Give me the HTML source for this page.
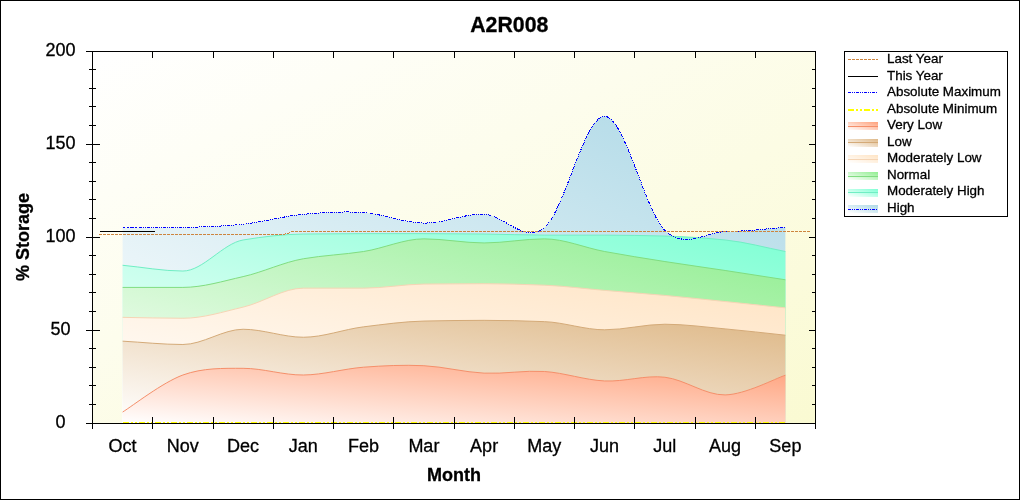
<!DOCTYPE html><html><head><meta charset="utf-8"><style>html,body{margin:0;padding:0;background:#fff;}svg{display:block;}text{font-family:"Liberation Sans",Arial,sans-serif;stroke:#000;stroke-width:0.3px;}</style></head><body>
<svg width="1020" height="500" viewBox="0 0 1020 500">
<defs>
<linearGradient id="bg" x1="0" y1="0" x2="1" y2="1"><stop offset="0" stop-color="#FFFFFF"/><stop offset="1" stop-color="#FAFAD2"/></linearGradient>
<linearGradient id="g_amax" x1="0" y1="1" x2="1" y2="0"><stop offset="0" stop-color="#FFFFFF"/><stop offset="1" stop-color="#ADD8E6"/></linearGradient>
<linearGradient id="l_amax" x1="0" y1="1" x2="1" y2="0"><stop offset="0" stop-color="#FFFFFF"/><stop offset="1" stop-color="#ADD8E6"/></linearGradient>
<linearGradient id="g_mhigh" x1="0" y1="1" x2="1" y2="0"><stop offset="0" stop-color="#FFFFFF"/><stop offset="1" stop-color="#7FFFD4"/></linearGradient>
<linearGradient id="l_mhigh" x1="0" y1="1" x2="1" y2="0"><stop offset="0" stop-color="#FFFFFF"/><stop offset="1" stop-color="#7FFFD4"/></linearGradient>
<linearGradient id="g_norm" x1="0" y1="1" x2="1" y2="0"><stop offset="0" stop-color="#FFFFFF"/><stop offset="1" stop-color="#90EE90"/></linearGradient>
<linearGradient id="l_norm" x1="0" y1="1" x2="1" y2="0"><stop offset="0" stop-color="#FFFFFF"/><stop offset="1" stop-color="#90EE90"/></linearGradient>
<linearGradient id="g_mlow" x1="0" y1="1" x2="1" y2="0"><stop offset="0" stop-color="#FFFFFF"/><stop offset="1" stop-color="#FFE4C4"/></linearGradient>
<linearGradient id="l_mlow" x1="0" y1="1" x2="1" y2="0"><stop offset="0" stop-color="#FFFFFF"/><stop offset="1" stop-color="#FFE4C4"/></linearGradient>
<linearGradient id="g_low" x1="0" y1="1" x2="1" y2="0"><stop offset="0" stop-color="#FFFFFF"/><stop offset="1" stop-color="#DEB887"/></linearGradient>
<linearGradient id="l_low" x1="0" y1="1" x2="1" y2="0"><stop offset="0" stop-color="#FFFFFF"/><stop offset="1" stop-color="#DEB887"/></linearGradient>
<linearGradient id="g_vlow" x1="0" y1="1" x2="1" y2="0"><stop offset="0" stop-color="#FFFFFF"/><stop offset="1" stop-color="#FFA07A"/></linearGradient>
<linearGradient id="l_vlow" x1="0" y1="1" x2="1" y2="0"><stop offset="0" stop-color="#FFFFFF"/><stop offset="1" stop-color="#FFA07A"/></linearGradient>
</defs>
<rect x="0" y="0" width="1020" height="500" fill="#fff"/>
<rect x="0.5" y="0.5" width="1019" height="499" fill="none" stroke="#000"/>
<text x="509.3" y="32.1" font-size="21.3" font-weight="bold" text-anchor="middle">A2R008</text>
<rect x="93" y="52" width="722" height="371" fill="url(#bg)"/>
<path d="M122.62 423 L122.62 227.7 C132.67 227.67 162.79 228.1 182.88 227.51 C202.96 226.93 223.04 226.37 243.12 224.17 C263.21 221.96 283.29 216.23 303.38 214.31 C323.46 212.39 343.54 211.18 363.62 212.63 C383.71 214.09 403.79 222.77 423.88 223.05 C443.96 223.33 464.04 213.53 484.12 214.31 C504.21 215.08 524.29 244.04 544.38 227.7 C564.46 211.36 584.54 115.85 604.62 116.29 C624.71 116.72 644.79 211.05 664.88 230.3 C684.96 249.56 705.04 232.29 725.12 231.79 C745.21 231.3 775.33 228.07 785.38 227.33 L785.38 423 Z" fill="url(#g_amax)"/>
<path d="M122.62 423 L122.62 265.27 C142.71 267.19 162.79 271.04 182.88 271.04 C202.96 271.04 223.04 243.31 243.12 239.98 C263.21 236.65 283.29 234.26 303.38 234.02 C323.46 233.79 343.54 233.65 363.62 233.65 C383.71 233.65 403.79 233.65 423.88 233.65 C443.96 233.65 464.04 233.84 484.12 234.02 C504.21 234.21 524.29 235.14 544.38 235.14 C564.46 235.14 584.54 235.14 604.62 235.14 C624.71 235.14 644.79 235.57 664.88 236.07 C684.96 236.57 705.04 238.03 725.12 239.98 C745.21 241.92 765.29 247.66 785.38 251.51 L785.38 423 Z" fill="url(#g_mhigh)"/>
<path d="M122.62 265.27 C142.71 267.19 162.79 271.04 182.88 271.04 C202.96 271.04 223.04 243.31 243.12 239.98 C263.21 236.65 283.29 234.26 303.38 234.02 C323.46 233.79 343.54 233.65 363.62 233.65 C383.71 233.65 403.79 233.65 423.88 233.65 C443.96 233.65 464.04 233.84 484.12 234.02 C504.21 234.21 524.29 235.14 544.38 235.14 C564.46 235.14 584.54 235.14 604.62 235.14 C624.71 235.14 644.79 235.57 664.88 236.07 C684.96 236.57 705.04 238.03 725.12 239.98 C745.21 241.92 765.29 247.66 785.38 251.51" fill="none" stroke="#70EEC4" stroke-width="1"/>
<path d="M122.62 423 L122.62 287.41 C142.71 287.41 162.79 287.41 182.88 287.41 C202.96 287.41 223.04 281.1 243.12 276.62 C263.21 272.13 283.29 262.2 303.38 258.76 C323.46 255.32 343.54 254.58 363.62 251.51 C383.71 248.43 403.79 238.86 423.88 238.86 C443.96 238.86 464.04 242.95 484.12 242.95 C504.21 242.95 524.29 238.86 544.38 238.86 C564.46 238.86 584.54 247.78 604.62 251.51 C624.71 255.24 644.79 258.4 664.88 261.55 C684.96 264.7 705.04 267.44 725.12 270.48 C745.21 273.52 765.29 276.68 785.38 279.78 L785.38 423 Z" fill="url(#g_norm)"/>
<path d="M122.62 287.41 C142.71 287.41 162.79 287.41 182.88 287.41 C202.96 287.41 223.04 281.1 243.12 276.62 C263.21 272.13 283.29 262.2 303.38 258.76 C323.46 255.32 343.54 254.58 363.62 251.51 C383.71 248.43 403.79 238.86 423.88 238.86 C443.96 238.86 464.04 242.95 484.12 242.95 C504.21 242.95 524.29 238.86 544.38 238.86 C564.46 238.86 584.54 247.78 604.62 251.51 C624.71 255.24 644.79 258.4 664.88 261.55 C684.96 264.7 705.04 267.44 725.12 270.48 C745.21 273.52 765.29 276.68 785.38 279.78" fill="none" stroke="#80DD80" stroke-width="1"/>
<path d="M122.62 423 L122.62 317.35 C142.71 317.66 162.79 318.28 182.88 318.28 C202.96 318.28 223.04 311.81 243.12 307.12 C263.21 302.44 283.29 288.15 303.38 288.15 C323.46 288.15 343.54 288.15 363.62 288.15 C383.71 288.15 403.79 284.29 423.88 284.06 C443.96 283.83 464.04 283.69 484.12 283.69 C504.21 283.69 524.29 284.4 544.38 285.17 C564.46 285.95 584.54 288.68 604.62 290.38 C624.71 292.09 644.79 293.56 664.88 295.4 C684.96 297.25 705.04 299.47 725.12 301.54 C745.21 303.62 765.29 305.76 785.38 307.87 L785.38 423 Z" fill="url(#g_mlow)"/>
<path d="M122.62 317.35 C142.71 317.66 162.79 318.28 182.88 318.28 C202.96 318.28 223.04 311.81 243.12 307.12 C263.21 302.44 283.29 288.15 303.38 288.15 C323.46 288.15 343.54 288.15 363.62 288.15 C383.71 288.15 403.79 284.29 423.88 284.06 C443.96 283.83 464.04 283.69 484.12 283.69 C504.21 283.69 524.29 284.4 544.38 285.17 C564.46 285.95 584.54 288.68 604.62 290.38 C624.71 292.09 644.79 293.56 664.88 295.4 C684.96 297.25 705.04 299.47 725.12 301.54 C745.21 303.62 765.29 305.76 785.38 307.87" fill="none" stroke="#F5D5B5" stroke-width="1"/>
<path d="M122.62 423 L122.62 341.16 C142.71 342.28 162.79 344.51 182.88 344.51 C202.96 344.51 223.04 329.26 243.12 329.26 C263.21 329.26 283.29 337.25 303.38 337.25 C323.46 337.25 343.54 329.31 363.62 326.84 C383.71 324.36 403.79 321.51 423.88 321.07 C443.96 320.63 464.04 320.33 484.12 320.33 C504.21 320.33 524.29 320.88 544.38 321.63 C564.46 322.38 584.54 329.81 604.62 329.81 C624.71 329.81 644.79 324.23 664.88 324.23 C684.96 324.23 705.04 327.1 725.12 328.88 C745.21 330.67 765.29 333.1 785.38 335.21 L785.38 423 Z" fill="url(#g_low)"/>
<path d="M122.62 341.16 C142.71 342.28 162.79 344.51 182.88 344.51 C202.96 344.51 223.04 329.26 243.12 329.26 C263.21 329.26 283.29 337.25 303.38 337.25 C323.46 337.25 343.54 329.31 363.62 326.84 C383.71 324.36 403.79 321.51 423.88 321.07 C443.96 320.63 464.04 320.33 484.12 320.33 C504.21 320.33 524.29 320.88 544.38 321.63 C564.46 322.38 584.54 329.81 604.62 329.81 C624.71 329.81 644.79 324.23 664.88 324.23 C684.96 324.23 705.04 327.1 725.12 328.88 C745.21 330.67 765.29 333.1 785.38 335.21" fill="none" stroke="#D4AA78" stroke-width="1"/>
<path d="M122.62 423 L122.62 412.03 C132.67 405.86 162.79 382.3 182.88 375.01 C202.96 367.73 223.04 368.32 243.12 368.32 C263.21 368.32 283.29 375.2 303.38 375.01 C323.46 374.83 343.54 368.75 363.62 367.2 C383.71 365.65 403.79 364.72 423.88 365.71 C443.96 366.7 464.04 372.19 484.12 373.15 C504.21 374.11 524.29 370.18 544.38 371.48 C564.46 372.78 584.54 380 604.62 380.96 C624.71 381.93 644.79 374.92 664.88 377.24 C684.96 379.57 705.04 395.25 725.12 394.91 C745.21 394.57 775.33 378.48 785.38 375.2 L785.38 423 Z" fill="url(#g_vlow)"/>
<path d="M122.62 412.03 C132.67 405.86 162.79 382.3 182.88 375.01 C202.96 367.73 223.04 368.32 243.12 368.32 C263.21 368.32 283.29 375.2 303.38 375.01 C323.46 374.83 343.54 368.75 363.62 367.2 C383.71 365.65 403.79 364.72 423.88 365.71 C443.96 366.7 464.04 372.19 484.12 373.15 C504.21 374.11 524.29 370.18 544.38 371.48 C564.46 372.78 584.54 380 604.62 380.96 C624.71 381.93 644.79 374.92 664.88 377.24 C684.96 379.57 705.04 395.25 725.12 394.91 C745.21 394.57 775.33 378.48 785.38 375.2" fill="none" stroke="#F58F6A" stroke-width="1"/>
<path d="M123 423 L785.38 423" stroke="#FFFF00" stroke-width="2" stroke-dasharray="6 2 2 2 2 2" fill="none"/>
<path d="M122.62 227.7 C132.67 227.67 162.79 228.1 182.88 227.51 C202.96 226.93 223.04 226.37 243.12 224.17 C263.21 221.96 283.29 216.23 303.38 214.31 C323.46 212.39 343.54 211.18 363.62 212.63 C383.71 214.09 403.79 222.77 423.88 223.05 C443.96 223.33 464.04 213.53 484.12 214.31 C504.21 215.08 524.29 244.04 544.38 227.7 C564.46 211.36 584.54 115.85 604.62 116.29 C624.71 116.72 644.79 211.05 664.88 230.3 C684.96 249.56 705.04 232.29 725.12 231.79 C745.21 231.3 775.33 228.07 785.38 227.33" fill="none" stroke="#0000FF" stroke-width="1" stroke-dasharray="3 1 1 1 1 1" shape-rendering="crispEdges"/>
<path d="M99 234.5 H283 M283 234.5 L287 233.5 L291 232.5 M291 231.5 H810" fill="none" stroke="#CD853F" stroke-width="1" stroke-dasharray="3 1" shape-rendering="crispEdges"/>
<path d="M100 231.5 L155 231.5" stroke="#000" stroke-width="1"/>
<path d="M86 51.5 H815.5 M86 423.5 H815.5 M92.5 51 V429 M815.5 51 V429 M92.5 423 V429 M152.5 417 V429 M152.5 52 V58 M213.5 417 V429 M213.5 52 V58 M273.5 417 V429 M273.5 52 V58 M333.5 417 V429 M333.5 52 V58 M393.5 417 V429 M393.5 52 V58 M454.5 417 V429 M454.5 52 V58 M514.5 417 V429 M514.5 52 V58 M574.5 417 V429 M574.5 52 V58 M634.5 417 V429 M634.5 52 V58 M695.5 417 V429 M695.5 52 V58 M755.5 417 V429 M755.5 52 V58 M815.5 423 V429 M86 423.5 H100 M809 423.5 H815 M89 404.5 H96 M812 404.5 H815 M89 385.5 H96 M812 385.5 H815 M89 367.5 H96 M812 367.5 H815 M89 348.5 H96 M812 348.5 H815 M86 330.5 H100 M809 330.5 H815 M89 311.5 H96 M812 311.5 H815 M89 292.5 H96 M812 292.5 H815 M89 274.5 H96 M812 274.5 H815 M89 255.5 H96 M812 255.5 H815 M86 237.5 H100 M809 237.5 H815 M89 218.5 H96 M812 218.5 H815 M89 199.5 H96 M812 199.5 H815 M89 181.5 H96 M812 181.5 H815 M89 162.5 H96 M812 162.5 H815 M86 144.5 H100 M809 144.5 H815 M89 125.5 H96 M812 125.5 H815 M89 106.5 H96 M812 106.5 H815 M89 88.5 H96 M812 88.5 H815 M89 69.5 H96 M812 69.5 H815 M86 51.5 H100 M809 51.5 H815" stroke="#000" stroke-width="1" fill="none"/>
<text x="60.6" y="427.5" font-size="18" text-anchor="middle">0</text>
<text x="60.6" y="334.5" font-size="18" text-anchor="middle">50</text>
<text x="60.6" y="241.5" font-size="18" text-anchor="middle">100</text>
<text x="60.6" y="148.5" font-size="18" text-anchor="middle">150</text>
<text x="60.6" y="55.5" font-size="18" text-anchor="middle">200</text>
<text x="122.62" y="452" font-size="18" text-anchor="middle">Oct</text>
<text x="182.88" y="452" font-size="18" text-anchor="middle">Nov</text>
<text x="243.12" y="452" font-size="18" text-anchor="middle">Dec</text>
<text x="303.38" y="452" font-size="18" text-anchor="middle">Jan</text>
<text x="363.62" y="452" font-size="18" text-anchor="middle">Feb</text>
<text x="423.88" y="452" font-size="18" text-anchor="middle">Mar</text>
<text x="484.12" y="452" font-size="18" text-anchor="middle">Apr</text>
<text x="544.38" y="452" font-size="18" text-anchor="middle">May</text>
<text x="604.62" y="452" font-size="18" text-anchor="middle">Jun</text>
<text x="664.88" y="452" font-size="18" text-anchor="middle">Jul</text>
<text x="725.12" y="452" font-size="18" text-anchor="middle">Aug</text>
<text x="785.38" y="452" font-size="18" text-anchor="middle">Sep</text>
<text x="454" y="481" font-size="18" font-weight="bold" text-anchor="middle">Month</text>
<text x="0" y="0" font-size="18" font-weight="bold" text-anchor="middle" transform="translate(29 237) rotate(-90)">% Storage</text>
<rect x="844.5" y="51.5" width="163" height="165" fill="#fff" stroke="#000"/>
<path d="M848 59.5 H878" stroke="#CD853F" stroke-width="1" stroke-dasharray="3 1"/>
<text x="887" y="63" font-size="13.4">Last Year</text>
<path d="M848 76.5 H878" stroke="#000" stroke-width="1"/>
<text x="887" y="80" font-size="13.4">This Year</text>
<path d="M848 92.5 H878" stroke="#0000FF" stroke-width="1" stroke-dasharray="3 1 1 1 1 1"/>
<text x="887" y="96" font-size="13.4">Absolute Maximum</text>
<path d="M848 110 H878" stroke="#FFFF00" stroke-width="2" stroke-dasharray="6 2 2 2 2 2"/>
<text x="887" y="113" font-size="13.4">Absolute Minimum</text>
<rect x="848" y="122" width="30" height="8" fill="url(#l_vlow)"/>
<path d="M848 126.5 H878" stroke="#F58F6A"/>
<text x="887" y="129" font-size="13.4">Very Low</text>
<rect x="848" y="139" width="30" height="8" fill="url(#l_low)"/>
<path d="M848 142.5 H878" stroke="#D4AA78"/>
<text x="887" y="146" font-size="13.4">Low</text>
<rect x="848" y="155" width="30" height="8" fill="url(#l_mlow)"/>
<path d="M848 159.5 H878" stroke="#F5D5B5"/>
<text x="887" y="162" font-size="13.4">Moderately Low</text>
<rect x="848" y="172" width="30" height="8" fill="url(#l_norm)"/>
<path d="M848 176.5 H878" stroke="#80DD80"/>
<text x="887" y="179" font-size="13.4">Normal</text>
<rect x="848" y="189" width="30" height="8" fill="url(#l_mhigh)"/>
<path d="M848 192.5 H878" stroke="#70EEC4"/>
<text x="887" y="195" font-size="13.4">Moderately High</text>
<rect x="848" y="205" width="30" height="8" fill="url(#l_amax)"/>
<path d="M848 209.5 H878" stroke="#0000FF" stroke-dasharray="3 1 1 1 1 1"/>
<text x="887" y="212" font-size="13.4">High</text>
</svg></body></html>
